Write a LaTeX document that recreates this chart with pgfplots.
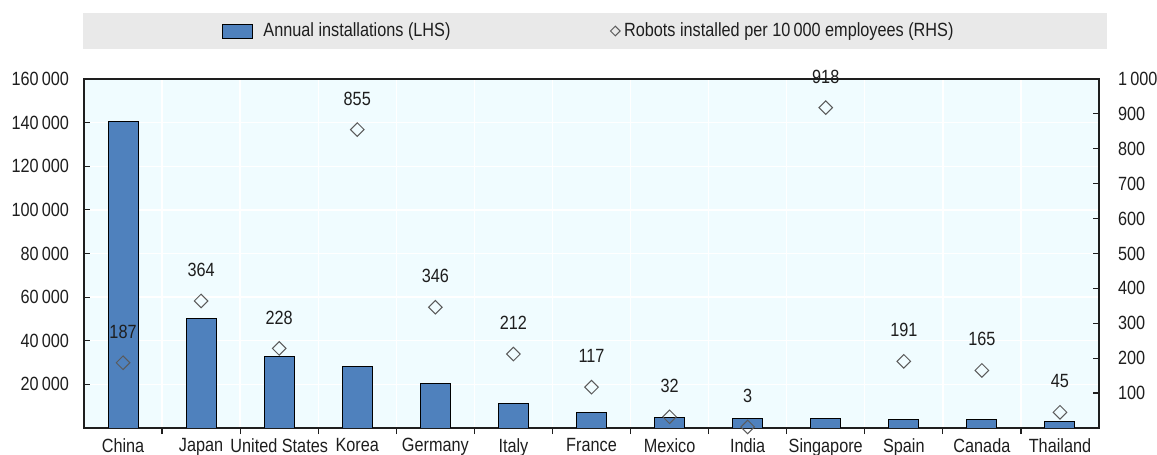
\documentclass[border=0pt]{standalone}
\usepackage{pgfplots}
\pgfplotsset{compat=1.18}
\usepackage{pgfplotstable}
\usepackage{fontspec}
\setmainfont{Liberation Sans}[FakeStretch=0.85]

\definecolor{barblue}{RGB}{79,129,189}
\definecolor{plotbg}{RGB}{240,252,255}
\definecolor{leggray}{RGB}{233,233,233}
\definecolor{txt}{RGB}{30,30,30}
\definecolor{mkgray}{RGB}{90,90,90}
\newcommand\chartfont{\fontsize{9.6}{11}\selectfont}

\pgfplotsset{
  barlegend/.style={legend image code/.code={\draw[##1] (0bp,-3.5bp) rectangle (15bp,3.5bp); \path (18bp,0bp);}},
  dialegend/.style={legend image code/.code={\draw[##1, mark size=1.7bp] plot coordinates {(2bp,0bp)};}},
}

% idx: category position, inst: annual installations, robots: per 10 000 employees
\pgfplotstableread{
idx inst robots
0 140500 187
1 50000 364
2 33000 228
3 28000 855
4 20500 346
5 11100 212
6 6900 117
7 5000 32
8 4400 3
9 4400 918
10 3700 191
11 3700 165
12 3100 45
}\robotdata

\begin{document}
\begin{tikzpicture}[font=\chartfont, text=txt]
\fill[leggray] (41.5bp,203bp) rectangle (553.5bp,221bp);

\begin{axis}[
    at={(42bp,13.5bp)}, anchor=south west,
    scale only axis, width=507.5bp, height=174.5bp,
    xmin=-0.5, xmax=12.5, ymin=0, ymax=160000,
    axis background/.style={fill=plotbg},
    axis line style={txt, line width=0.6bp},
    xtick={0,...,12},
    xticklabels={China,Japan,United States,Korea,Germany,Italy,France,Mexico,India,Singapore,Spain,Canada,Thailand},
    xticklabel style={yshift=1.2bp},
    major x tick style={draw=none},
    minor xtick={0.5,1.5,...,11.5},
    xtick pos=bottom,
    tick align=inside,
    major tick length=3bp, minor tick length=3bp,
    tick style={txt, line width=0.6bp},
    xminorgrids, minor x grid style={white, line width=0.7bp},
    ytick={20000,40000,...,160000},
    ytick pos=left,
    ymajorgrids, major y grid style={white, line width=0.7bp},
    scaled y ticks=false,
    yticklabel style={/pgf/number format/fixed, /pgf/number format/1000 sep={\,},
        /pgf/number format/assume math mode=true, xshift=-4bp},
    tick label style={font=\chartfont, text=txt},
    ybar, bar width=15bp,
]
\addplot[fill=barblue, draw=black, line width=0.5bp] table[x=idx, y=inst]{\robotdata};
\end{axis}

\begin{axis}[
    at={(42bp,13.5bp)}, anchor=south west,
    scale only axis, width=507.5bp, height=174.5bp,
    xmin=-0.5, xmax=12.5, ymin=0, ymax=1000,
    hide x axis,
    axis y line*=right,
    axis line style={txt, line width=0.6bp},
    ytick={100,200,...,1000},
    tick align=inside,
    major tick length=3bp,
    tick style={txt, line width=0.6bp},
    yticklabel style={/pgf/number format/fixed, /pgf/number format/1000 sep={\,},
        /pgf/number format/assume math mode=true, xshift=6bp},
    tick label style={font=\chartfont, text=txt},
    clip=false,
    legend columns=2,
    legend style={at={(rel axis cs:0.136,1.1375)}, anchor=west,
        fill=none, draw=none, font=\chartfont, text=txt,
        inner sep=0pt,
        /tikz/every even column/.append style={column sep=78bp}},
]
\addlegendimage{fill=barblue, draw=black, line width=0.5bp, barlegend}
\addlegendentry{Annual installations (LHS)}

\addplot[only marks, mark=square, mark size=2.4bp,
    mark options={rotate=45, fill=white, draw=mkgray, line width=0.5bp},
    nodes near coords,
    point meta=y,
    every node near coord/.append style={anchor=center, yshift=15.5bp, font=\chartfont, text=txt,
        /pgf/number format/fixed, /pgf/number format/assume math mode=true},
    dialegend
    ] table[x=idx, y=robots]{\robotdata};
\addlegendentry{Robots installed per 10\,000 employees (RHS)}
\end{axis}

\pgfresetboundingbox
\path[use as bounding box] (0bp,0bp) rectangle (578.5bp,227.5bp);
\end{tikzpicture}
\end{document}
